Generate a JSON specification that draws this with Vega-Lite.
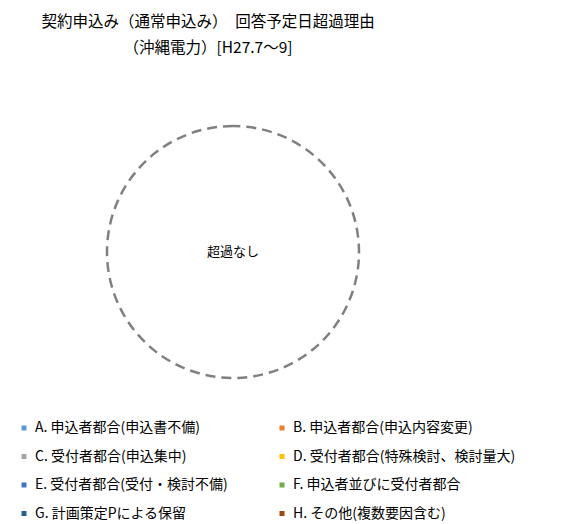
{
  "$schema": "https://vega.github.io/schema/vega-lite/v6.json",
  "autosize": "none",
  "padding": {"left": 0, "top": 0, "right": 114, "bottom": 20},
  "width": 466,
  "height": 504,
  "background": "white",
  "config": {"view": {"stroke": null}, "font": "Noto Sans CJK JP"},
  "title": {
    "text": ["契約申込み（通常申込み）　回答予定日超過理由", "（沖縄電力）[H27.7～9]"],
    "anchor": "middle",
    "dx": -25,
    "offset": -56,
    "fontSize": 15.5,
    "fontWeight": "normal",
    "font": "Noto Sans CJK JP",
    "color": "#000000",
    "lineHeight": 26
  },
  "datasets": {
    "reasons": [
      {"reason": "A. 申込者都合(申込書不備)", "count": 0},
      {"reason": "B. 申込者都合(申込内容変更)", "count": 0},
      {"reason": "C. 受付者都合(申込集中)", "count": 0},
      {"reason": "D. 受付者都合(特殊検討、検討量大)", "count": 0},
      {"reason": "E. 受付者都合(受付・検討不備)", "count": 0},
      {"reason": "F. 申込者並びに受付者都合", "count": 0},
      {"reason": "G. 計画策定Pによる保留", "count": 0},
      {"reason": "H. その他(複数要因含む)", "count": 0}
    ],
    "none": [{"label": "超過なし", "count": 1}]
  },
  "layer": [
    {
      "data": {"name": "reasons"},
      "mark": {"type": "arc", "outerRadius": 126},
      "encoding": {
        "theta": {"field": "count", "type": "quantitative"},
        "color": {
          "field": "reason",
          "type": "nominal",
          "scale": {
            "domain": [
              "A. 申込者都合(申込書不備)",
              "B. 申込者都合(申込内容変更)",
              "C. 受付者都合(申込集中)",
              "D. 受付者都合(特殊検討、検討量大)",
              "E. 受付者都合(受付・検討不備)",
              "F. 申込者並びに受付者都合",
              "G. 計画策定Pによる保留",
              "H. その他(複数要因含む)"
            ],
            "range": ["#5B9BD5", "#ED7D31", "#A5A5A5", "#FFC000", "#4472C4", "#70AD47", "#255E91", "#9E480E"]
          },
          "legend": {
            "title": null,
            "orient": "none",
            "direction": "horizontal",
            "legendX": 17,
            "legendY": 421,
            "columns": 2,
            "gridAlign": "all",
            "columnPadding": 17,
            "rowPadding": 14.5,
            "symbolType": "square",
            "symbolSize": 25,
            "symbolStrokeWidth": 0,
            "labelFontSize": 14,
            "labelFont": "Noto Sans CJK JP",
            "labelColor": "#000000",
            "labelLimit": 300,
            "labelOffset": 4
          }
        }
      }
    },
    {
      "data": {"name": "none"},
      "mark": {
        "type": "arc",
        "outerRadius": 126,
        "fill": "white",
        "fillOpacity": 0,
        "stroke": "#808080",
        "strokeWidth": 2.5,
        "strokeDash": [10, 6]
      },
      "encoding": {
        "theta": {"field": "count", "type": "quantitative"}
      }
    },
    {
      "data": {"name": "none"},
      "mark": {"type": "text", "fontSize": 13, "font": "Noto Sans CJK JP", "color": "#000000"},
      "encoding": {
        "text": {"field": "label", "type": "nominal"}
      }
    }
  ]
}
